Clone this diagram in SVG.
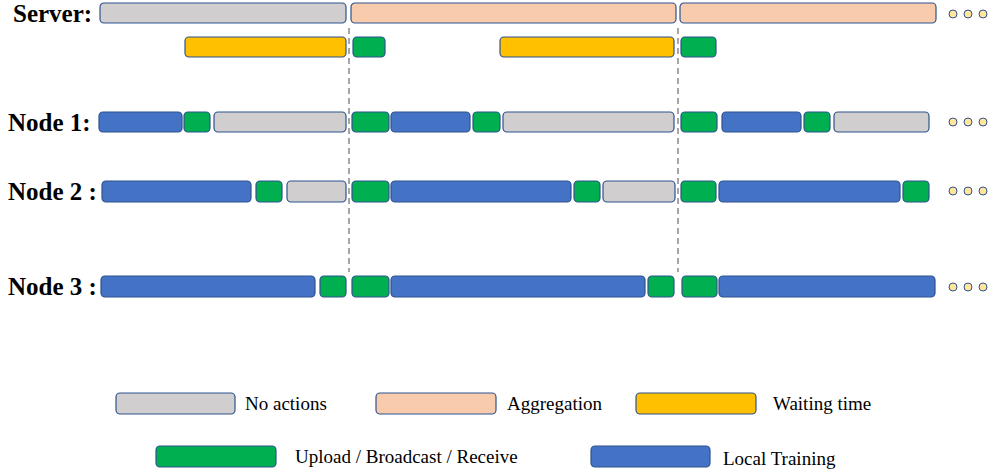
<svg xmlns="http://www.w3.org/2000/svg" width="991" height="476" viewBox="0 0 991 476">
  <style>
    .bar { stroke: #2F528F; stroke-width: 1.2; }
    .idle { fill: #D0CECE; }
    .agg { fill: #F8CBAD; }
    .wait { fill: #FFC000; }
    .comm { fill: #00B050; }
    .train { fill: #4472C4; }
    .dot { fill: #FFE699; stroke: #2F528F; stroke-width: 1; }
    .label { font-family: "Liberation Serif", "Times New Roman", serif; font-weight: bold; font-size: 25px; fill: #000; }
    .legend { font-family: "Liberation Serif", "Times New Roman", serif; font-size: 19px; fill: #000; }
    .sync { stroke: #A6A6A6; stroke-width: 2; stroke-dasharray: 6 4; fill: none; }
  </style>

  <!-- round boundaries -->
  <g id="connectors">
    <line class="sync" x1="349" y1="28" x2="349" y2="272"/>
    <line class="sync" x1="678" y1="28" x2="678" y2="272"/>
  </g>

  <g id="server">
    <text class="label" x="13" y="22">Server:</text>
    <rect class="bar idle" x="100" y="3" width="246" height="20" rx="4"/>
    <rect class="bar agg" x="351" y="3" width="325" height="20" rx="4"/>
    <rect class="bar agg" x="680" y="3" width="256" height="20" rx="4"/>
    <rect class="bar wait" x="185" y="37" width="161" height="20" rx="4"/>
    <rect class="bar comm" x="353" y="37" width="32" height="20" rx="4"/>
    <rect class="bar wait" x="500" y="37" width="174" height="20" rx="4"/>
    <rect class="bar comm" x="681" y="37" width="35" height="20" rx="4"/>
    <circle class="dot" cx="953" cy="14" r="4"/>
    <circle class="dot" cx="968" cy="14" r="4"/>
    <circle class="dot" cx="983" cy="14" r="4"/>
  </g>

  <g id="node1">
    <text class="label" x="8" y="131">Node 1:</text>
    <rect class="bar train" x="99" y="112" width="83" height="20" rx="4"/>
    <rect class="bar comm" x="184" y="112" width="26" height="20" rx="4"/>
    <rect class="bar idle" x="214" y="112" width="132" height="20" rx="4"/>
    <rect class="bar comm" x="352" y="112" width="37" height="20" rx="4"/>
    <rect class="bar train" x="391" y="112" width="79" height="20" rx="4"/>
    <rect class="bar comm" x="473" y="112" width="27" height="20" rx="4"/>
    <rect class="bar idle" x="503" y="112" width="171" height="20" rx="4"/>
    <rect class="bar comm" x="681" y="112" width="36" height="20" rx="4"/>
    <rect class="bar train" x="722" y="112" width="79" height="20" rx="4"/>
    <rect class="bar comm" x="804" y="112" width="26" height="20" rx="4"/>
    <rect class="bar idle" x="834" y="112" width="95" height="20" rx="4"/>
    <circle class="dot" cx="953" cy="122" r="4"/>
    <circle class="dot" cx="968" cy="122" r="4"/>
    <circle class="dot" cx="983" cy="122" r="4"/>
  </g>

  <g id="node2">
    <text class="label" x="8" y="200">Node 2 :</text>
    <rect class="bar train" x="102" y="181" width="149" height="21" rx="4"/>
    <rect class="bar comm" x="256" y="181" width="26" height="21" rx="4"/>
    <rect class="bar idle" x="287" y="181" width="59" height="21" rx="4"/>
    <rect class="bar comm" x="352" y="181" width="37" height="21" rx="4"/>
    <rect class="bar train" x="391" y="181" width="180" height="21" rx="4"/>
    <rect class="bar comm" x="574" y="181" width="26" height="21" rx="4"/>
    <rect class="bar idle" x="603" y="181" width="72" height="21" rx="4"/>
    <rect class="bar comm" x="681" y="181" width="35" height="21" rx="4"/>
    <rect class="bar train" x="719" y="181" width="181" height="21" rx="4"/>
    <rect class="bar comm" x="903" y="181" width="26" height="21" rx="4"/>
    <circle class="dot" cx="953" cy="191" r="4"/>
    <circle class="dot" cx="968" cy="191" r="4"/>
    <circle class="dot" cx="983" cy="191" r="4"/>
  </g>

  <g id="node3">
    <text class="label" x="8" y="295">Node 3 :</text>
    <rect class="bar train" x="101" y="276" width="214" height="21" rx="4"/>
    <rect class="bar comm" x="320" y="276" width="26" height="21" rx="4"/>
    <rect class="bar comm" x="352" y="276" width="37" height="21" rx="4"/>
    <rect class="bar train" x="391" y="276" width="254" height="21" rx="4"/>
    <rect class="bar comm" x="648" y="276" width="26" height="21" rx="4"/>
    <rect class="bar comm" x="682" y="276" width="35" height="21" rx="4"/>
    <rect class="bar train" x="719" y="276" width="216" height="21" rx="4"/>
    <circle class="dot" cx="953" cy="287" r="4"/>
    <circle class="dot" cx="968" cy="287" r="4"/>
    <circle class="dot" cx="983" cy="287" r="4"/>
  </g>

  <g id="legend">
    <rect class="bar idle" x="116" y="393" width="119" height="21" rx="4"/>
    <text class="legend" x="245" y="410">No actions</text>
    <rect class="bar agg" x="376" y="393" width="120" height="21" rx="4"/>
    <text class="legend" x="507" y="410">Aggregation</text>
    <rect class="bar wait" x="636" y="393" width="120" height="21" rx="4"/>
    <text class="legend" x="773" y="410">Waiting time</text>
    <rect class="bar comm" x="156" y="446" width="120" height="21" rx="4"/>
    <text class="legend" x="295" y="463">Upload / Broadcast / Receive</text>
    <rect class="bar train" x="591" y="446" width="119" height="21" rx="4"/>
    <text class="legend" x="723" y="465">Local Training</text>
  </g>
</svg>
